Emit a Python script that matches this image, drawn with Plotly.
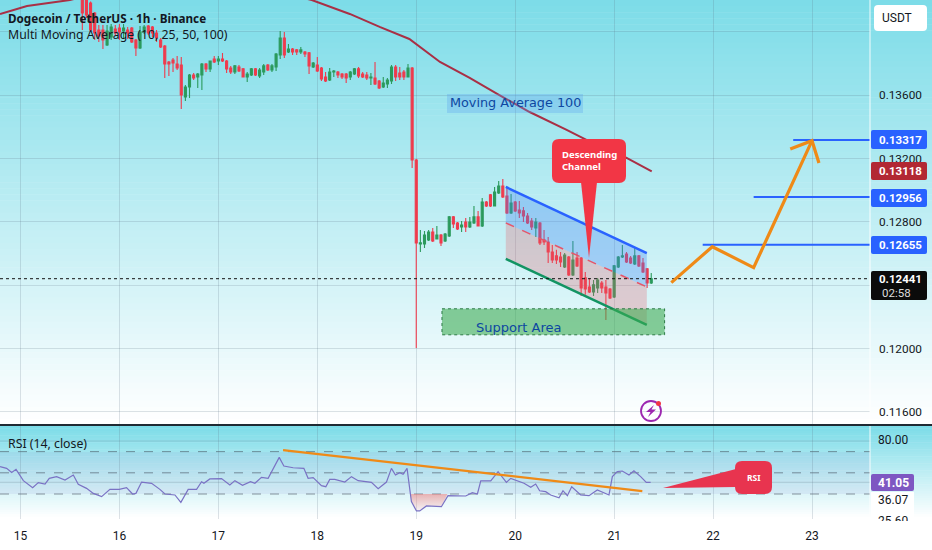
import plotly.graph_objects as go

W, H = 932, 550
PLOT_RIGHT = 870
MAIN_BOTTOM = 424
RSI_TOP = 426
RSI_BOTTOM = 519

# hourly candles, prices in 1e-5 USDT, first candle is hour 15 of day 15
first_hour = 15
opens = [14250,14200,14181,14118,14011,14011,13916,13967,14017,14023,
         14004,14011,14023,13948,13897,13998,14036,14030,13992,13948,
         13910,13809,13821,13796,13790,13588,13651,13727,13714,13727,
         13796,13765,13828,13815,13828,13815,13771,13746,13777,13765,
         13714,13727,13765,13720,13746,13790,13758,13777,13853,13960,
         13872,13891,13885,13872,13872,13866,13777,13790,13771,13714,
         13695,13746,13746,13733,13733,13714,13733,13765,13733,13727,
         13708,13708,13689,13651,13670,13689,13777,13739,13746,13714,
         13771,13190,12660,12660,12686,12736,12692,12717,12679,12711,
         12831,12793,12768,12799,12768,12793,12831,12774,12925,12970,
         12900,12982,13026,12963,12856,12925,12875,12869,12837,12805,
         12761,12793,12686,12673,12610,12585,12578,12515,12578,12465,
         12572,12572,12446,12389,12357,12383,12414,12389,12376,12326,
         12515,12578,12597,12572,12534,12585,12540,12503,12414]
highs = [14263,14230,14190,14125,14042,14042,14042,14049,14042,14049,
         14049,14030,14030,13954,14036,14042,14042,14036,14011,13960,
         13916,13815,13834,13847,13840,13664,13733,13739,13739,13802,
         13802,13815,13847,13847,13866,13821,13784,13790,13790,13771,
         13746,13771,13771,13771,13796,13796,13796,13866,14004,13998,
         13922,13897,13891,13903,13878,13872,13809,13840,13777,13746,
         13771,13758,13752,13739,13739,13752,13771,13777,13746,13746,
         13739,13809,13695,13714,13708,13790,13790,13777,13758,13796,
         13777,13196,12749,12742,12749,12761,12774,12723,12730,12837,
         12837,12799,12805,12824,12831,12900,12869,12951,12932,12976,
         13020,13058,13070,13020,12976,12932,12932,12894,12856,12824,
         12824,12799,12749,12705,12654,12623,12610,12604,12585,12679,
         12610,12578,12484,12446,12433,12446,12427,12433,12383,12528,
         12585,12654,12610,12585,12635,12591,12572,12509,12477]
lows = [14011,14086,14004,13948,13935,13891,13910,13948,13973,13948,
        13960,13954,13929,13847,13891,13985,13979,13967,13935,13897,
        13708,13720,13746,13758,13512,13563,13582,13695,13645,13632,
        13746,13746,13802,13790,13809,13739,13733,13733,13746,13714,
        13683,13720,13720,13708,13727,13752,13746,13752,13828,13834,
        13866,13853,13853,13859,13840,13733,13771,13746,13689,13683,
        13689,13714,13708,13702,13676,13695,13727,13708,13708,13695,
        13664,13664,13638,13645,13645,13670,13689,13695,13695,13714,
        13140,12004,12610,12635,12679,12673,12692,12648,12673,12705,
        12761,12749,12736,12736,12761,12787,12774,12768,12894,12894,
        12900,12976,12951,12850,12850,12862,12824,12799,12787,12749,
        12705,12654,12654,12540,12540,12534,12515,12509,12458,12458,
        12515,12332,12339,12351,12332,12351,12351,12181,12313,12320,
        12509,12572,12540,12534,12528,12515,12477,12383,12408]
closes = [14118,14105,14011,13992,13973,13948,14004,14030,13992,13998,
          14023,13992,13935,13897,13998,14030,13992,13992,13960,13903,
          13796,13796,13802,13771,13601,13651,13727,13708,13733,13796,
          13765,13815,13809,13828,13815,13765,13746,13784,13752,13714,
          13733,13765,13727,13758,13784,13758,13784,13859,13960,13853,
          13891,13872,13872,13885,13859,13784,13802,13752,13702,13689,
          13746,13752,13727,13714,13708,13746,13765,13720,13714,13708,
          13714,13670,13645,13676,13695,13777,13714,13714,13714,13771,
          13190,12667,12667,12717,12736,12679,12717,12667,12723,12831,
          12787,12755,12780,12768,12799,12831,12774,12925,12900,12900,
          12988,13026,12957,12856,12919,12869,12856,12837,12793,12768,
          12799,12667,12673,12610,12559,12559,12547,12591,12465,12559,
          12522,12383,12376,12357,12402,12433,12383,12351,12320,12522,
          12578,12585,12547,12540,12585,12522,12484,12414,12441]

# moving average 100
ma_days = [14.793,15.066,15.5,16.7,17.944,18.328,18.63,18.93,19.24,19.54,19.84,20.146,20.52,20.72,21.126,21.38]
ma_prices = [0.14112,0.14162,0.142,0.14389,0.142,0.14112,0.1403,0.13954,0.13809,0.13708,0.136,0.13493,0.1338,0.13317,0.13203,0.13118]

# rsi line, vertices
rsi_days = [14.793,14.860,14.911,14.955,15.029,15.123,15.180,15.248,15.291,15.365,15.450,15.534,15.584,15.668,15.736,15.820,
            15.904,15.998,16.072,16.133,16.167,16.224,16.325,16.409,16.460,16.561,16.621,16.695,16.780,16.830,16.854,16.914,
            17.032,17.116,17.167,17.244,17.325,17.369,17.436,17.503,17.615,17.662,17.756,17.864,17.907,17.958,18.042,18.086,
            18.126,18.177,18.278,18.345,18.413,18.547,18.615,18.699,18.749,18.790,18.833,18.867,18.907,18.951,19.002,19.035,
            19.103,19.254,19.321,19.500,19.567,19.618,19.652,19.753,19.827,19.911,19.955,20.089,20.157,20.207,20.247,20.308,
            20.359,20.443,20.483,20.527,20.571,20.662,20.746,20.830,20.948,20.982,21.032,21.082,21.150,21.200,21.268,21.325,21.369]
rsi_values = [55.8,54.2,50.4,53.3,42.6,36.0,40.7,39.4,44.8,46.4,43.2,47.9,39.1,35.3,30.6,27.5,
              34.4,34.4,36.0,30.0,30.6,41.3,40.1,34.4,30.0,29.1,22.1,34.4,34.4,41.6,40.1,44.2,
              44.5,38.5,42.6,38.2,41.6,40.1,45.7,44.8,64.6,56.4,54.8,54.2,44.8,45.4,37.9,36.9,
              43.8,43.8,41.3,46.4,42.6,41.0,35.0,41.3,54.2,47.9,50.1,48.6,54.2,22.8,14.0,14.0,
              18.7,18.0,28.4,28.1,31.3,30.0,42.3,42.3,51.1,41.0,44.8,40.1,36.3,39.4,33.1,32.2,
              29.1,26.5,33.1,28.4,36.9,29.1,28.4,33.8,29.1,46.4,51.1,51.7,47.9,52.0,46.4,41.0,41.05]
rsi_trend_days = [17.654, 21.285]
rsi_trend_values = [71.5, 32.8]
oversold_days = [18.94,18.951,19.002,19.035,19.103,19.254,19.315]
oversold_values = [30,22.8,14.0,14.0,18.7,18.0,30]

# drawings
channel_days = [19.905, 21.33]
channel_upper = [0.1302, 0.12603]
channel_mid = [0.12793, 0.12389]
channel_lower = [0.12566, 0.12149]
support_days = [19.26, 21.51]
support_prices = [0.12251, 0.12087]
targets = [0.13317, 0.12956, 0.12655]
target_starts = [22.81, 22.41, 21.895]
path_days = [21.578, 21.992, 22.41, 23.0]
path_prices = [0.12416, 0.12643, 0.12511, 0.13312]
head_days = [22.78, 23.0, 23.07]
head_prices = [0.1326, 0.13312, 0.13171]
last_price = 0.12441

price_ticks = [0.116, 0.12, 0.124, 0.128, 0.132, 0.136, 0.14]
price_labels = ["0.11600", "0.12000", "", "0.12800", "0.13200", "0.13600", ""]
day_ticks = [15, 16, 17, 18, 19, 20, 21, 22, 23]
day_labels = ["15", "16", "17", "18", "19", "20", "21", "22", "23"]

BLUE = "#2962ff"
RED = "#f23645"
ORANGE = "#ef8a17"
FONT = "Noto Sans"
TICK_FONT = "Roboto"


def px(x):
    return x / W


def py(y):
    return 1 - y / H


def round_rect(x0, y0, x1, y1, r):
    # rounded box in pixels as a path on the paper
    return (f"M{px(x0+r)},{py(y0)} L{px(x1-r)},{py(y0)} Q{px(x1)},{py(y0)} {px(x1)},{py(y0+r)} "
            f"L{px(x1)},{py(y1-r)} Q{px(x1)},{py(y1)} {px(x1-r)},{py(y1)} "
            f"L{px(x0+r)},{py(y1)} Q{px(x0)},{py(y1)} {px(x0)},{py(y1-r)} "
            f"L{px(x0)},{py(y0+r)} Q{px(x0)},{py(y0)} {px(x0+r)},{py(y0)} Z")


def gradient(y0, y1, steps, top=(125, 220, 232)):
    out = []
    for i in range(steps):
        t = i / (steps - 1)
        c = [round(a + (255 - a) * t) for a in top]
        out.append(dict(type="rect", xref="paper", yref="paper", x0=0, x1=1, layer="below",
                        y0=py(y0 + (y1 - y0) * i / steps), y1=py(y0 + (y1 - y0) * (i + 1) / steps + 0.5),
                        fillcolor=f"rgb({c[0]},{c[1]},{c[2]})", line_width=0))
    return out


hours = [15 + (first_hour + i) / 24 for i in range(len(opens))]

fig = go.Figure()
fig.add_trace(go.Candlestick(x=hours,
                             open=[v / 1e5 for v in opens],
                             high=[v / 1e5 for v in highs],
                             low=[v / 1e5 for v in lows],
                             close=[v / 1e5 for v in closes],
                             whiskerwidth=0,
                             increasing=dict(line=dict(color="#2b9a5c", width=1.1), fillcolor="#2b9a5c"),
                             decreasing=dict(line=dict(color="#ef3b4d", width=1.1), fillcolor="#ef3b4d")))
fig.add_trace(go.Scatter(x=ma_days, y=ma_prices, mode="lines", line=dict(color="#a92f45", width=2)))

# channel fills go over the candles
fig.add_trace(go.Scatter(x=channel_days + channel_days[::-1], y=channel_upper + channel_mid[::-1], mode="lines",
                         fill="toself", fillcolor="rgba(66,133,244,0.33)", line_width=0))
fig.add_trace(go.Scatter(x=channel_days + channel_days[::-1], y=channel_mid + channel_lower[::-1], mode="lines",
                         fill="toself", fillcolor="rgba(230,90,100,0.27)", line_width=0))
fig.add_trace(go.Scatter(x=channel_days, y=channel_upper, mode="lines", line=dict(color=BLUE, width=2.5)))
fig.add_trace(go.Scatter(x=channel_days, y=channel_mid, mode="lines", line=dict(color="#e5566a", width=1.5, dash="dash")))
fig.add_trace(go.Scatter(x=channel_days, y=channel_lower, mode="lines", line=dict(color="#129463", width=2.5)))
fig.add_trace(go.Scatter(x=[support_days[0], support_days[1], support_days[1], support_days[0], support_days[0]],
                         y=[support_prices[0], support_prices[0], support_prices[1], support_prices[1], support_prices[0]],
                         mode="lines", fill="toself", fillcolor="rgba(60,170,80,0.58)",
                         line=dict(color="#2c7a45", width=1, dash="dot")))

fig.add_trace(go.Scatter(x=[14.793, 23.586], y=[last_price, last_price], mode="lines",
                         line=dict(color="#111111", width=1, dash="dot")))
for price, start in zip(targets, target_starts):
    fig.add_trace(go.Scatter(x=[start, 23.586], y=[price, price], mode="lines", line=dict(color=BLUE, width=2)))
fig.add_trace(go.Scatter(x=path_days, y=path_prices, mode="lines", line=dict(color=ORANGE, width=3.2)))
fig.add_trace(go.Scatter(x=head_days, y=head_prices, mode="lines", line=dict(color=ORANGE, width=3.2)))

# rsi pane
fig.add_trace(go.Scatter(x=oversold_days, y=oversold_values, mode="lines", xaxis="x2", yaxis="y2",
                         fill="toself", line_width=0,
                         fillgradient=dict(type="vertical", colorscale=[[0, "rgba(255,150,150,0.1)"], [1, "rgba(240,120,120,0.55)"]])))
fig.add_trace(go.Scatter(x=rsi_days, y=rsi_values, mode="lines", xaxis="x2", yaxis="y2",
                         line=dict(color="#7a72c4", width=1.2)))
fig.add_trace(go.Scatter(x=rsi_trend_days, y=rsi_trend_values, mode="lines", xaxis="x2", yaxis="y2",
                         line=dict(color=ORANGE, width=2.2)))

shapes = gradient(0, MAIN_BOTTOM + 1, 70) + gradient(RSI_TOP, RSI_BOTTOM, 40)
shapes.append(dict(type="rect", xref="paper", yref="paper", x0=0, x1=px(PLOT_RIGHT), y0=py(452), y1=py(494),
                   fillcolor="rgba(110,90,190,0.08)", line_width=0, layer="below"))
for level in [70, 50, 30]:
    shapes.append(dict(type="line", xref="x2", yref="y2", x0=14.793, x1=23.586, y0=level, y1=level,
                       line=dict(color="rgba(70,80,95,0.6)", width=1, dash="dash"), layer="below"))
for level in [80, 41.05]:
    shapes.append(dict(type="line", xref="x2", yref="y2", x0=14.793, x1=23.586, y0=level, y1=level,
                       line=dict(color="rgba(90,110,130,0.25)", width=1), layer="below"))
# separator and price scale border
shapes.append(dict(type="line", xref="paper", yref="paper", x0=0, x1=1, y0=py(425), y1=py(425),
                   line=dict(color="#1f2a33", width=2)))
shapes.append(dict(type="line", xref="paper", yref="paper", x0=px(PLOT_RIGHT), x1=px(PLOT_RIGHT), y0=py(0), y1=py(424),
                   line=dict(color="rgba(255,255,255,0.9)", width=1)))
shapes.append(dict(type="line", xref="paper", yref="paper", x0=px(PLOT_RIGHT), x1=px(PLOT_RIGHT), y0=py(426), y1=py(519),
                   line=dict(color="rgba(255,255,255,0.9)", width=1)))

annotations = []


def add_text(x, y, text, size=12, color="#131722", family=FONT, bold=False, xanchor="center", **kw):
    if bold:
        text = f"<b>{text}</b>"
    annotations.append(dict(x=px(x), y=py(y), xref="paper", yref="paper", text=text, showarrow=False,
                            xanchor=xanchor, yanchor="middle", font=dict(size=size, color=color, family=family), **kw))


# price tags on the scale
tags = [(130, 149, "0.13317", BLUE), (162, 180, "0.13118", "#b22833"), (189, 207, "0.12956", BLUE), (236, 254, "0.12655", BLUE)]
for top, bottom, label, color in tags:
    shapes.append(dict(type="path", xref="paper", yref="paper", path=round_rect(871, top, 927, bottom, 2),
                       fillcolor=color, line_width=0))
    add_text(900, (top + bottom) / 2, label, size=11.5, color="white", family=TICK_FONT, bold=True)
shapes.append(dict(type="path", xref="paper", yref="paper", path=round_rect(871, 271, 927, 300, 2),
                   fillcolor="#0b0b0b", line_width=0))
add_text(900, 279, "0.12441", size=11.5, color="white", family=TICK_FONT, bold=True)
add_text(896, 293, "02:58", size=11.5, color="#dddddd", family=TICK_FONT)

# usdt button
shapes.append(dict(type="path", xref="paper", yref="paper", path=round_rect(874, 5, 927, 31, 4),
                   fillcolor="white", line_width=0))
add_text(897, 18, "USDT", size=12, family=TICK_FONT)

# rsi scale
shapes.append(dict(type="rect", xref="paper", yref="paper", x0=px(871), x1=px(914), y0=py(492), y1=py(519),
                   fillcolor="white", line_width=0))
shapes.append(dict(type="path", xref="paper", yref="paper", path=round_rect(871, 474, 914, 491, 2),
                   fillcolor="#7e57c2", line_width=0))
add_text(893, 440, "80.00", size=12, family=TICK_FONT)
add_text(893, 483, "41.05", size=12, color="white", family=TICK_FONT, bold=True)
add_text(893, 500, "36.07", size=12, family=TICK_FONT)
annotations.append(dict(x=px(893), y=py(512), xref="paper", yref="paper", text="25.60", showarrow=False, xanchor="center",
                        yanchor="top", height=7, valign="top", font=dict(size=12, color="#131722", family=TICK_FONT)))

# callouts
callout = round_rect(552, 139, 626, 183, 7)
shapes.append(dict(type="path", xref="paper", yref="paper", path=callout, fillcolor=RED, line_width=0))
shapes.append(dict(type="path", xref="paper", yref="paper", fillcolor=RED, line_width=0,
                   path=f"M{px(581)},{py(182)} L{px(597)},{py(182)} L{px(589)},{py(258)} Z"))
add_text(589, 160, "Descending<br>Channel", size=9.5, color="white", family=FONT, bold=True, align="left")
shapes.append(dict(type="path", xref="paper", yref="paper", path=round_rect(735, 461, 772, 494, 7), fillcolor="#e8344f", line_width=0))
shapes.append(dict(type="path", xref="paper", yref="paper", fillcolor="#e8344f", line_width=0,
                   path=f"M{px(736)},{py(469)} L{px(736)},{py(487)} L{px(663)},{py(488)} Z"))
add_text(754, 477, "RSI", size=8.5, color="white", family=FONT, bold=True)

# little flash badge
shapes.append(dict(type="circle", xref="paper", yref="paper", x0=px(641), x1=px(661), y0=py(401), y1=py(421),
                   fillcolor="rgba(0,0,0,0)", line=dict(color="#9c27b0", width=1.8)))
shapes.append(dict(type="path", xref="paper", yref="paper", fillcolor="#9c27b0", line_width=0,
                   path=(f"M{px(654)},{py(405)} L{px(646)},{py(412)} L{px(650.5)},{py(412)} "
                         f"L{px(648)},{py(417)} L{px(656)},{py(409.5)} L{px(651.5)},{py(409.5)} Z")))
shapes.append(dict(type="circle", xref="paper", yref="paper", x0=px(656), x1=px(661), y0=py(401), y1=py(406),
                   fillcolor="#f23645", line_width=0))

# labels on the chart
shapes.append(dict(type="rect", xref="paper", yref="paper", x0=px(447), x1=px(583), y0=py(94), y1=py(113),
                   fillcolor="rgba(90,160,240,0.3)", line_width=0))
add_text(515, 103, "Moving Average 100", size=12.8, color="#0d47a1", family="DejaVu Sans")
add_text(518, 327, "Support Area", size=13, color="#0d47a1", family="DejaVu Sans")
add_text(6, 18, "Dogecoin / TetherUS · 1h · Binance", size=11.7, family=FONT, xanchor="left", bold=True)
add_text(6, 35, "Multi Moving Average (10, 25, 50, 100)", size=12.3, family=FONT, xanchor="left")
add_text(6, 443, "RSI (14, close)", size=12.3, family=FONT, xanchor="left")

grid = "rgba(90,110,130,0.2)"
fig.update_layout(
    width=W, height=H, margin=dict(l=0, r=0, t=0, b=0), showlegend=False,
    paper_bgcolor="white", plot_bgcolor="rgba(0,0,0,0)", hovermode=False,
    shapes=shapes, annotations=annotations,
    xaxis=dict(domain=[0, PLOT_RIGHT / W], range=[14.793, 23.586], tickvals=day_ticks, ticktext=[""] * 9, showgrid=True,
               gridcolor=grid, zeroline=False, showline=False, ticks="", rangeslider=dict(visible=False), anchor="y"),
    yaxis=dict(domain=[py(MAIN_BOTTOM), 1], range=[0.11524, 0.142], side="right", tickvals=price_ticks, ticktext=price_labels,
               showgrid=True, gridcolor=grid, zeroline=False, showline=False, ticks="", ticklabelstandoff=8,
               tickfont=dict(size=11.8, color="#131722", family=TICK_FONT), anchor="x"),
    xaxis2=dict(domain=[0, PLOT_RIGHT / W], range=[14.793, 23.586], tickvals=day_ticks, ticktext=day_labels, showgrid=True,
                gridcolor=grid, zeroline=False, showline=False, ticks="", ticklabelstandoff=8,
                tickfont=dict(size=12, color="#131722", family=TICK_FONT), anchor="y2"),
    yaxis2=dict(domain=[py(RSI_BOTTOM), py(RSI_TOP)], range=[6.4, 94.2], side="right", showticklabels=False, showgrid=False,
                zeroline=False, showline=False, ticks="", anchor="x2"),
)

fig.write_html("out.html", post_script="document.body.style.margin='0';", config=dict(displayModeBar=False))
